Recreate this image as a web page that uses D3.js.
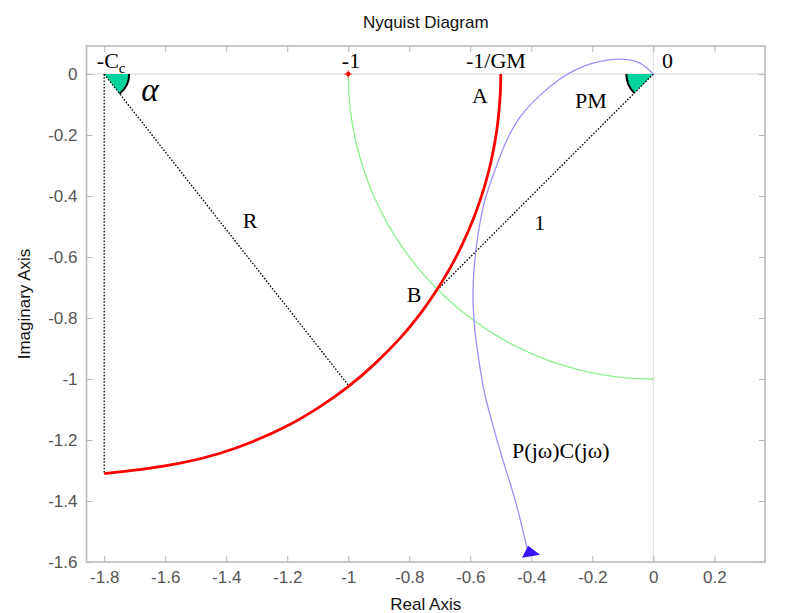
<!DOCTYPE html>
<html>
<head>
<meta charset="utf-8">
<script src="https://cdn.jsdelivr.net/npm/d3@7"></script>
<style>
  body { margin: 0; background: #fff; }
  svg text { font-family: "Liberation Sans", Arial, Helvetica, sans-serif; }
  .ann { font-family: "Liberation Serif", "Times New Roman", serif; fill: #000; }
</style>
</head>
<body>
<div id="chart"></div>
<script>
// circle of radius R round -Cc (red)
var redRe = [-0.50, -0.502, -0.51, -0.52, -0.535, -0.555, -0.585, -0.625, -0.665, -0.71, -0.765,
             -0.83, -0.915, -1.0, -1.095, -1.195, -1.31, -1.425, -1.555, -1.685, -1.80];
var redIm = [0, -0.07, -0.16, -0.227, -0.30, -0.374, -0.462, -0.556, -0.634, -0.708, -0.787,
             -0.866, -0.952, -1.025, -1.092, -1.151, -1.204, -1.245, -1.277, -1.297, -1.31];

// unit circle (green)
var greenRe = [-1.0, -0.998, -0.99, -0.975, -0.95, -0.915, -0.87, -0.815, -0.75, -0.68,
               -0.61, -0.53, -0.45, -0.36, -0.27, -0.18, -0.09, 0];
var greenIm = [0, -0.063, -0.141, -0.222, -0.312, -0.403, -0.493, -0.579, -0.661, -0.733,
               -0.792, -0.848, -0.893, -0.933, -0.963, -0.984, -0.996, -1.0];

// open loop P(jw)C(jw) (blue)
var loopRe = [0, -0.044, -0.099, -0.198, -0.257, -0.306, -0.371, -0.437, -0.48, -0.519, -0.552,
              -0.575, -0.588, -0.591, -0.585, -0.572, -0.552, -0.526, -0.493, -0.453, -0.414];
var loopIm = [0, 0.036, 0.049, 0.036, 0.013, -0.016, -0.069, -0.141, -0.216, -0.315, -0.413,
              -0.528, -0.643, -0.741, -0.839, -0.938, -1.052, -1.151, -1.266, -1.397, -1.554];
var arrowAt = [-0.404, -1.570];

var Cc = -1.8;            // -Cc on real axis
var Rpoint = [-1.0, -1.02]; // end of R segment on red circle
var Bpoint = [-0.707, -0.707];

var xTicks = [-1.8, -1.6, -1.4, -1.2, -1, -0.8, -0.6, -0.4, -0.2, 0, 0.2];
var yTicks = [0, -0.2, -0.4, -0.6, -0.8, -1, -1.2, -1.4, -1.6];

// text annotations [label, re, im, anchor]
var labels = [
  ["-1", -0.991, 0.02, "middle"],
  ["-1/GM", -0.516, 0.02, "middle"],
  ["A", -0.568, -0.095, "middle"],
  ["0", 0.0285, 0.02, "start"],
  ["PM", -0.257, -0.111, "start"],
  ["R", -1.322, -0.505, "middle"],
  ["1", -0.372, -0.511, "middle"],
  ["B", -0.808, -0.748, "start"],
  ["P(jω)C(jω)", -0.463, -1.259, "start"]
];

var W = 800, H = 613;
var margin = {top: 46, right: 35, bottom: 51, left: 86.5};
var width = W - margin.left - margin.right,
    height = H - margin.top - margin.bottom;

var svg = d3.select("#chart").append("svg")
    .attr("width", W).attr("height", H);

var x = d3.scaleLinear().domain([-1.858, 0.366]).range([0, width]);
var y = d3.scaleLinear().domain([-1.6, 0.092]).range([height, 0]);

var g = svg.append("g")
    .attr("transform", "translate(" + margin.left + "," + margin.top + ")");

g.append("clipPath").attr("id", "clip")
  .append("rect").attr("width", width).attr("height", height);

// zero lines
g.append("line").attr("x1", 0).attr("x2", width).attr("y1", y(0)).attr("y2", y(0))
  .attr("stroke", "#e3e3e3").attr("stroke-width", 1.5);
g.append("line").attr("x1", x(0)).attr("x2", x(0)).attr("y1", 0).attr("y2", height)
  .attr("stroke", "#e3e3e3").attr("stroke-width", 1.5);

// axes, ticks inside on all four sides
function styleAxis(sel) {
  sel.select(".domain").remove();
  sel.selectAll(".tick line").attr("stroke", "#b5b5b5");
  sel.selectAll(".tick text").attr("fill", "#555").style("font-size", "17px");
}
var fmt = function(d) { return d3.format("")(+d.toFixed(1)).replace("−", "-"); };

g.append("g").attr("transform", "translate(0," + height + ")")
  .call(d3.axisBottom(x).tickValues(xTicks).tickSize(-6).tickPadding(9).tickFormat(fmt))
  .call(styleAxis);
g.append("g")
  .call(d3.axisTop(x).tickValues(xTicks).tickSize(-6).tickFormat(""))
  .call(styleAxis);
g.append("g")
  .call(d3.axisLeft(y).tickValues(yTicks).tickSize(-6).tickPadding(9).tickFormat(fmt))
  .call(styleAxis);
g.append("g").attr("transform", "translate(" + width + ",0)")
  .call(d3.axisRight(y).tickValues(yTicks).tickSize(-6).tickFormat(""))
  .call(styleAxis);

g.append("rect").attr("width", width).attr("height", height)
  .attr("fill", "none").attr("stroke", "#b5b5b5").attr("stroke-width", 1.5);

var plot = g.append("g").attr("clip-path", "url(#clip)");

var line = d3.line().x(function(d) { return x(d[0]); }).y(function(d) { return y(d[1]); });
function pts(re, im) { return re.map(function(v, i) { return [v, im[i]]; }); }

// angle wedges
function wedge(cx, cy, a0, a1, r) {
  var arc = d3.arc().innerRadius(0).outerRadius(r).startAngle(a0).endAngle(a1);
  var arcLine = d3.arc().innerRadius(r).outerRadius(r).startAngle(a0).endAngle(a1);
  var w = plot.append("g").attr("transform", "translate(" + x(cx) + "," + y(cy) + ")");
  w.append("path").attr("d", arc()).attr("fill", "#00d49c");
  w.append("path").attr("d", arcLine()).attr("fill", "none").attr("stroke", "#000").attr("stroke-width", 2);
}
// d3.arc angles: 0 = up, clockwise
var alphaAng = Math.atan2(x(Rpoint[0]) - x(Cc), -(y(Rpoint[1]) - y(0)));
wedge(Cc, 0, alphaAng, Math.PI / 2, 25);
var pmAng = Math.atan2(x(Bpoint[0]) - x(0), -(y(Bpoint[1]) - y(0))) + 2 * Math.PI;
wedge(0, 0, 3 * Math.PI / 2, pmAng, 27);

// dotted construction lines
function dotted(a, b) {
  plot.append("line")
    .attr("x1", x(a[0])).attr("y1", y(a[1])).attr("x2", x(b[0])).attr("y2", y(b[1]))
    .attr("stroke", "#000").attr("stroke-width", 1.3).attr("stroke-dasharray", "1.6,1.6");
}
dotted([Cc, 0], [Cc, redIm[redIm.length - 1]]);
dotted([Cc, 0], Rpoint);
dotted([0, 0], Bpoint);

plot.append("path").datum(pts(greenRe, greenIm)).attr("d", line.curve(d3.curveCatmullRom))
  .attr("fill", "none").attr("stroke", "#8ef08e").attr("stroke-width", 1.3);
plot.append("path").datum(pts(loopRe, loopIm)).attr("d", line.curve(d3.curveCatmullRom))
  .attr("fill", "none").attr("stroke", "#9c90ff").attr("stroke-width", 1.3);
plot.append("path").datum(pts(redRe, redIm)).attr("d", line.curve(d3.curveCatmullRom))
  .attr("fill", "none").attr("stroke", "#ff0000").attr("stroke-width", 2.8);

// arrow on loop
var ax = x(arrowAt[0]), ay = y(arrowAt[1]);
plot.append("path")
  .attr("d", "M" + (ax - 2) + "," + (ay - 7) + "L" + (ax - 8) + "," + (ay + 5) + "L" + (ax + 10) + "," + (ay + 2) + "Z")
  .attr("fill", "#3a10ff");

// -1 marker
plot.append("path")
  .attr("d", "M" + (x(-1) - 4) + "," + y(0) + "h8M" + x(-1) + "," + (y(0) - 4) + "v8")
  .attr("stroke", "#ff3030").attr("stroke-width", 1);
plot.append("circle").attr("cx", x(-1)).attr("cy", y(0)).attr("r", 2.2).attr("fill", "#ff0000");

// annotations
labels.forEach(function(l) {
  g.append("text").attr("class", "ann")
    .attr("x", x(l[1])).attr("y", y(l[2]))
    .attr("text-anchor", l[3]).style("font-size", "22px").text(l[0]);
});
var cc = g.append("text").attr("class", "ann")
  .attr("x", x(-1.824)).attr("y", y(0.02)).style("font-size", "22px");
cc.append("tspan").text("-C");
cc.append("tspan").attr("dy", 5).style("font-size", "15px").text("c");
g.append("text").attr("class", "ann")
  .attr("x", x(-1.65)).attr("y", y(-0.0885)).attr("text-anchor", "middle")
  .style("font-size", "33px").style("font-style", "italic").text("α");

// title and axis labels
svg.append("text").attr("x", margin.left + width / 2).attr("y", 28)
  .attr("text-anchor", "middle").style("font-size", "17px").attr("fill", "#111")
  .text("Nyquist Diagram");
svg.append("text").attr("x", margin.left + width / 2).attr("y", 610)
  .attr("text-anchor", "middle").style("font-size", "17px").attr("fill", "#111")
  .text("Real Axis");
svg.append("text")
  .attr("transform", "translate(30," + (margin.top + height / 2) + ") rotate(-90)")
  .attr("text-anchor", "middle").style("font-size", "17px").attr("fill", "#111")
  .text("Imaginary Axis");
</script>
</body>
</html>
